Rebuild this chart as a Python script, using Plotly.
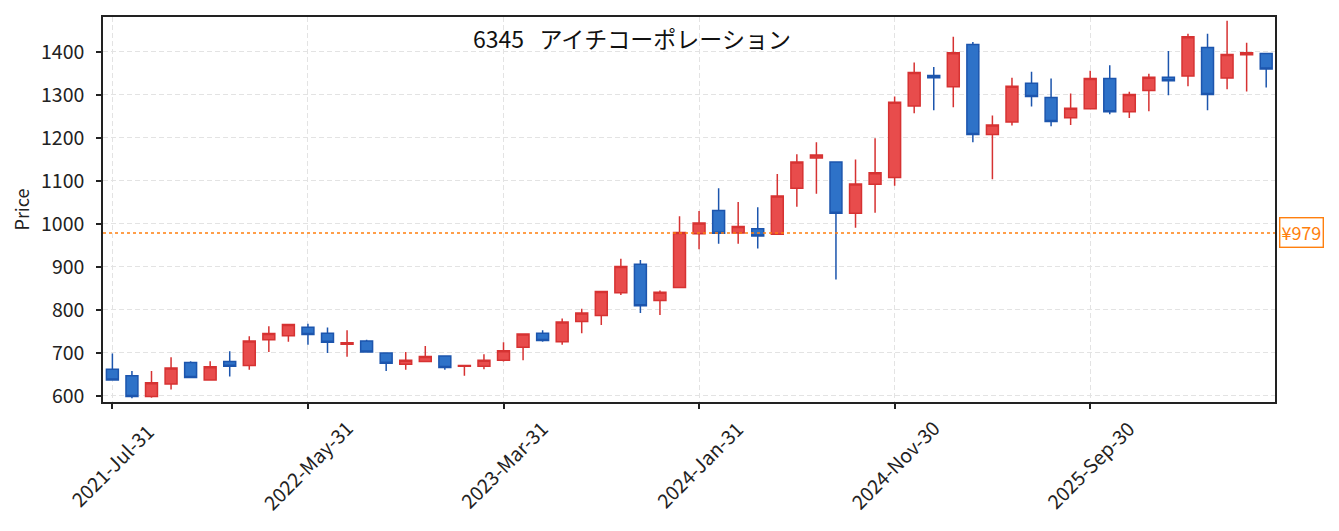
import pandas as pd
import plotly.graph_objects as go

# monthly candles, Jul 2021 - Jun 2026 (month-end labels)
dates = pd.date_range("2021-07-31", periods=60, freq="ME").strftime("%Y-%b-%d").tolist()

opens = [662, 647, 599, 628, 678, 637, 680, 671, 731, 740,
         760, 746, 720, 728, 700, 674, 680, 693, 669, 669,
         683, 713, 746, 726, 773, 787, 840, 906, 822, 852,
         977, 1031, 979, 989, 976, 1083, 1153, 1144, 1025, 1092,
         1108, 1274, 1345, 1319, 1417, 1208, 1237, 1327, 1294, 1247,
         1268, 1338, 1261, 1310, 1341, 1344, 1410, 1339, 1393, 1396]
highs = [699, 658, 658, 690, 681, 681, 704, 739, 762, 768,
         768, 759, 753, 731, 700, 702, 716, 693, 671, 697,
         725, 745, 753, 780, 803, 843, 919, 916, 845, 1018,
         1030, 1083, 1051, 1039, 1116, 1162, 1190, 1144, 1150, 1199,
         1296, 1375, 1365, 1435, 1423, 1252, 1340, 1354, 1338, 1303,
         1356, 1369, 1307, 1349, 1402, 1442, 1442, 1472, 1421, 1396]
lows = [637, 595, 596, 615, 643, 637, 645, 661, 702, 726,
        719, 700, 691, 701, 658, 661, 679, 661, 647, 662,
        680, 683, 726, 719, 746, 765, 835, 793, 788, 852,
        941, 954, 954, 943, 975, 1040, 1070, 871, 991, 1026,
        1089, 1257, 1264, 1271, 1190, 1104, 1229, 1273, 1227, 1230,
        1268, 1255, 1246, 1262, 1299, 1320, 1264, 1313, 1308, 1317]
closes = [637, 599, 631, 665, 643, 668, 669, 728, 745, 766,
          743, 725, 724, 702, 676, 683, 692, 666, 671, 683,
          705, 744, 729, 772, 793, 843, 901, 810, 841, 980,
          1002, 978, 994, 972, 1065, 1144, 1160, 1025, 1093, 1119,
          1283, 1352, 1340, 1398, 1208, 1230, 1320, 1296, 1238, 1269,
          1338, 1261, 1301, 1341, 1333, 1435, 1301, 1394, 1398, 1360]

last_price = 979
title_text = "6345\u00a0\u00a0\u00a0アイチコーポレーション"
tick_labels = dates[::10]
y_ticks = [600, 700, 800, 900, 1000, 1100, 1200, 1300, 1400]

fig = go.Figure()

# red = up, blue = down (Japanese convention)
fig.add_trace(go.Candlestick(
    x=dates, open=opens, high=highs, low=lows, close=closes,
    increasing=dict(line=dict(color="#d63232", width=1.5), fillcolor="#e84c4c"),
    decreasing=dict(line=dict(color="#1c55ad", width=1.5), fillcolor="#2e72c8"),
    whiskerwidth=0,
    showlegend=False,
))

# current price reference line
fig.add_hline(y=last_price, line=dict(color="#ff7f0e", width=1.6, dash="dot"))
fig.add_annotation(
    x=1.003, xref="paper", y=last_price, yref="y",
    text="¥%d" % last_price, showarrow=False, xanchor="left", yanchor="middle",
    font=dict(color="#ff7f0e", size=18),
    bgcolor="white", bordercolor="#ff7f0e", borderwidth=1.4, borderpad=1,
)

# title inside the plot
fig.add_annotation(
    x=0.451, xref="paper", y=0.946, yref="paper",
    text=title_text, showarrow=False, xanchor="center", yanchor="middle",
    font=dict(size=23, color="#111111"),
)

# rotated date labels centred under their ticks
for lab in tick_labels:
    fig.add_annotation(
        x=lab, xref="x", y=-0.163, yref="paper",
        text=lab, showarrow=False, textangle=-45,
        xanchor="center", yanchor="middle",
        font=dict(size=19.5, color="#222222"),
    )

fig.update_layout(
    width=1331, height=523,
    margin=dict(l=95, r=64, t=7, b=129),
    paper_bgcolor="white", plot_bgcolor="white",
    font=dict(family="Noto Sans CJK JP, Noto Sans, sans-serif", size=19.5, color="#222222"),
    boxgap=0.39, boxgroupgap=0,
)

grid = dict(showgrid=True, gridcolor="#e3e3e3", griddash="5px,3px", gridwidth=1.2)
axis_line = dict(ticks="outside", ticklen=5, tickwidth=1.5, tickcolor="#222222",
                 showline=True, linecolor="#222222", linewidth=1.5, mirror=True)

fig.update_xaxes(
    type="category",
    rangeslider_visible=False,
    range=[-0.48, 59.45],
    tickvals=tick_labels, showticklabels=False,
    **axis_line, **grid,
)
fig.update_yaxes(
    range=[586, 1481],
    tickvals=y_ticks,
    ticklabelstandoff=8,
    zeroline=False,
    title=dict(text="Price", font=dict(size=18), standoff=10),
    **axis_line, **grid,
)

fig.write_html("out.html")
